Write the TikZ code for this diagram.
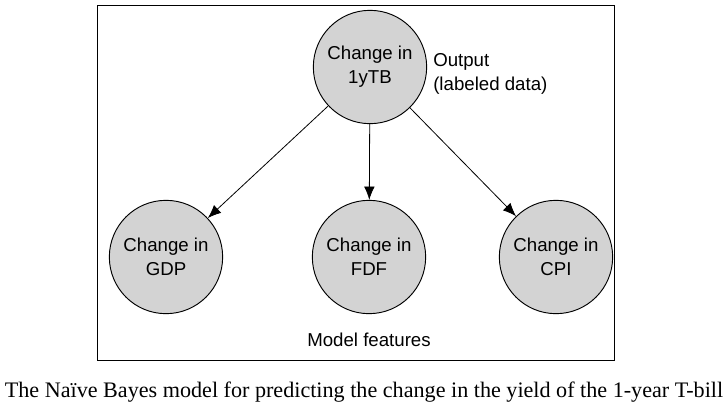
\documentclass[tikz,border=0pt]{standalone}
\usepackage{fontspec}
\setmainfont{Liberation Serif}
\newfontfamily\diagfont{Liberation Sans}
\usetikzlibrary{arrows.meta}

\definecolor{nodegray}{RGB}{211,211,211}

\tikzset{
  varnode/.style={circle, draw=black, line width=0.7pt, fill=nodegray, minimum size=85pt, inner sep=0pt, align=center, font=\diagfont\fontsize{14}{18}\selectfont},
  plainlabel/.style={inner sep=0.75pt, align=left, font=\diagfont\fontsize{14}{18}\selectfont},
  edge/.style={-{Latex[length=10pt,width=8pt]}, line width=0.6pt}
}

\begin{document}
\begin{tikzpicture}[x=0.75pt,y=0.75pt,yscale=-1,xscale=1]

\useasboundingbox (0,0) rectangle (728,415);

% frame
\draw[line width=0.7pt] (97,5) rectangle (614,360);

% nodes
\node[varnode] (tb) at (370,67) {Change in\\1yTB};
\node[varnode] (gdp) at (166,257) {Change in\\GDP};
\node[varnode] (fdf) at (369,257) {Change in\\FDF};
\node[varnode] (cpi) at (556,257) {Change in\\CPI};

\node[plainlabel, anchor=west] (out) at (432,74) {Output\\(labeled data)};
\node[plainlabel] (feat) at (369,340) {Model features};

% arrows
\draw[edge] (tb) -- (gdp);
\draw[edge] (tb) -- (fdf);
\draw[edge] (tb) -- (cpi);

% caption
\node[inner sep=0pt, font=\fontsize{16.6}{19}\selectfont] (cap) at (364,392) {The Naïve Bayes model for predicting the change in the yield of the 1-year T-bill};

\end{tikzpicture}
\end{document}
